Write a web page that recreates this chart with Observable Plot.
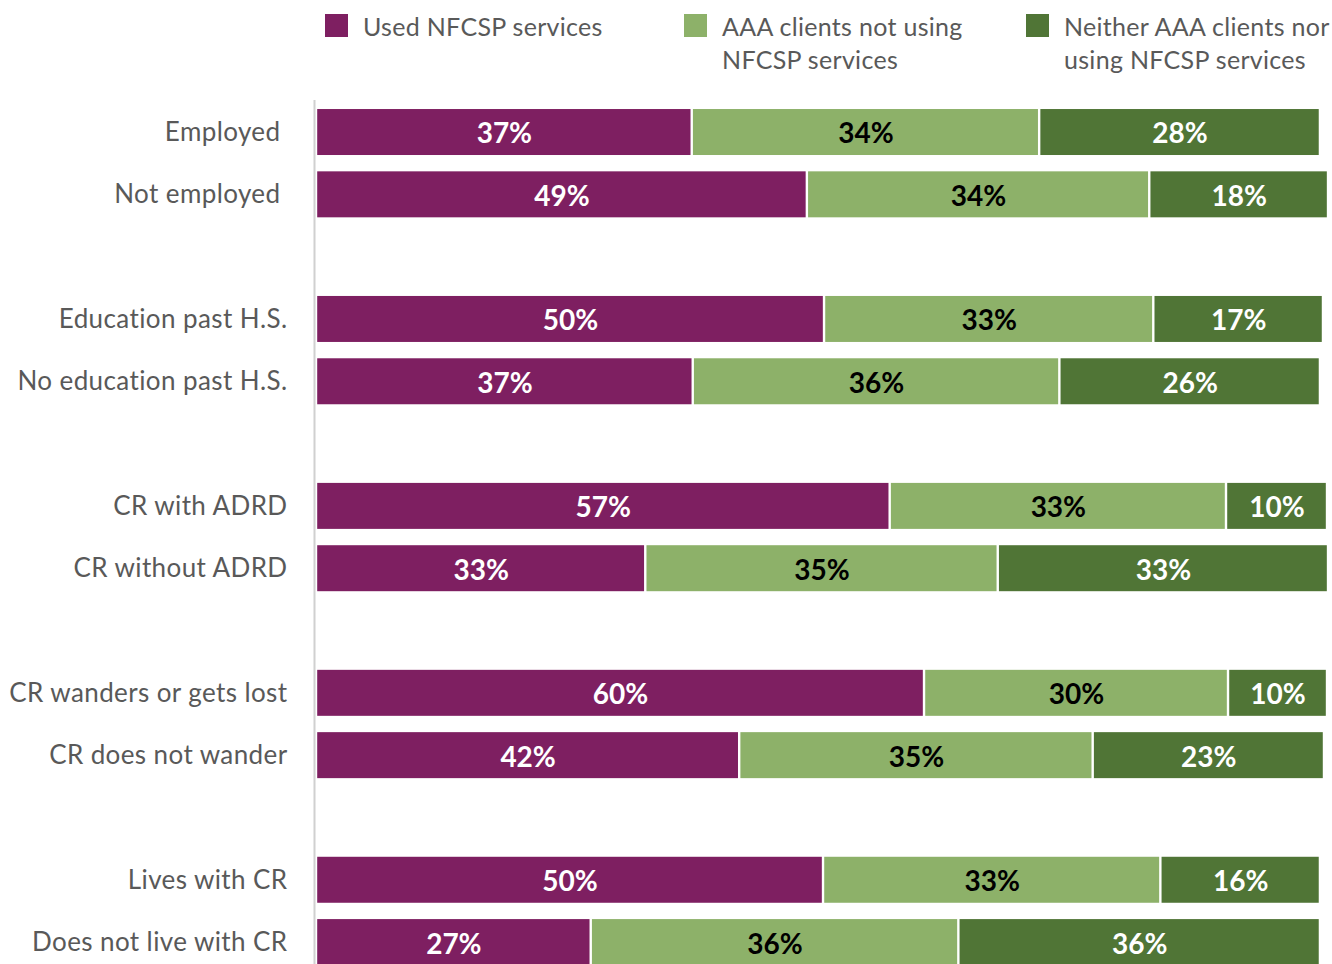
<!DOCTYPE html>
<html>
<head>
<meta charset="utf-8">
<script src="https://cdn.jsdelivr.net/npm/d3@7"></script>
<script src="https://cdn.jsdelivr.net/npm/@observablehq/plot@0.6"></script>
<style>
  html, body { margin: 0; padding: 0; background: #fff; overflow: hidden; }
  #wrap { position: relative; width: 1332px; height: 964px; font-family: Lato, "Open Sans", sans-serif; }
  .lg { position: absolute; color: #595959; font-size: 25px; letter-spacing: 0.3px; line-height: 33px; white-space: nowrap; }
  .sw { position: absolute; width: 23px; height: 23px; }
  svg g[aria-label="y-axis tick label"] text { letter-spacing: 0.4px; }
</style>
</head>
<body>
<div id="wrap"></div>
<script>
// ---- data ----
const categories = [
  "Employed", "Not employed",
  "Education past H.S.", "No education past H.S.",
  "CR with ADRD", "CR without ADRD",
  "CR wanders or gets lost", "CR does not wander",
  "Lives with CR", "Does not live with CR"
];
const seriesNames = [
  "Used NFCSP services",
  "AAA clients not using NFCSP services",
  "Neither AAA clients nor using NFCSP services"
];
const legendLines = [
  ["Used NFCSP services"],
  ["AAA clients not using", "NFCSP services"],
  ["Neither AAA clients nor", "using NFCSP services"]
];
const usedNFCSP = [37.2, 48.6, 50.3, 37.3, 56.8, 32.6, 60.2, 41.9, 50.2, 27.2];
const aaaNotUsing = [34.4, 33.9, 32.6, 36.3, 33.3, 34.9, 30.1, 35.0, 33.4, 36.4];
const neither = [27.8, 17.7, 16.8, 25.8, 10.0, 32.7, 9.8, 22.9, 15.8, 35.8];
const groupsOf = [0, 0, 1, 1, 2, 2, 3, 3, 4, 4];
const paddedLabels = ["Employed", "Not employed"];

// ---- styles ----
const colors = ["#7E1F61", "#8DB169", "#507536"];
const textColors = ["white", "black", "white"];

// y domain with spacer rows between groups
const yDomain = [];
categories.forEach((c, i) => {
  if (i > 0 && groupsOf[i] !== groupsOf[i - 1]) yDomain.push("gap" + groupsOf[i]);
  yDomain.push(c);
});

const seriesValues = [usedNFCSP, aaaNotUsing, neither];
const rows = [];
categories.forEach((c, i) => {
  seriesValues.forEach((vals, s) => {
    rows.push({category: c, series: seriesNames[s], si: s, value: vals[i]});
  });
});

const W = 1332, H = 964;
const chart = Plot.plot({
  width: W,
  height: H,
  marginLeft: 316,
  marginRight: 6,
  marginTop: 100,
  marginBottom: 0,
  style: {fontFamily: "Lato, 'Open Sans', sans-serif", background: "white"},
  x: {domain: [0, 100], axis: null},
  y: {domain: yDomain, range: [92.7, 981.4], padding: 0.262, round: false, label: null},
  color: {type: "identity"},
  marks: [
    Plot.barX(rows, Plot.stackX({
      x: "value", y: "category",
      fill: d => colors[d.si],
      insetLeft: 1.2, insetRight: 1.2
    })),
    Plot.text(rows, Plot.stackX({
      x: "value", y: "category",
      text: d => Math.round(d.value) + "%",
      fill: d => textColors[d.si],
      fontSize: 28, fontWeight: "bold", dy: 2
    })),
    Plot.ruleX([0], {stroke: "#D0D0D0", strokeWidth: 2, dx: -2}),
    Plot.axisY({
      ticks: categories,
      tickSize: 0,
      tickPadding: 29,
      fontSize: 26,
      color: "#595959",
      label: null,
      tickFormat: d => paddedLabels.includes(d) ? d + "\u00a0" : d
    })
  ]
});
const wrap = document.getElementById("wrap");
wrap.appendChild(chart);

// ---- legend (HTML overlay at top) ----
const legendX = [325, 684, 1026];
legendLines.forEach((lines, i) => {
  const sw = document.createElement("div");
  sw.className = "sw";
  sw.style.left = legendX[i] + "px";
  sw.style.top = "14px";
  sw.style.background = colors[i];
  wrap.appendChild(sw);
  const t = document.createElement("div");
  t.className = "lg";
  t.style.left = (legendX[i] + 38) + "px";
  t.style.top = "10px";
  t.innerHTML = lines.join("<br>");
  wrap.appendChild(t);
});
</script>
</body>
</html>
